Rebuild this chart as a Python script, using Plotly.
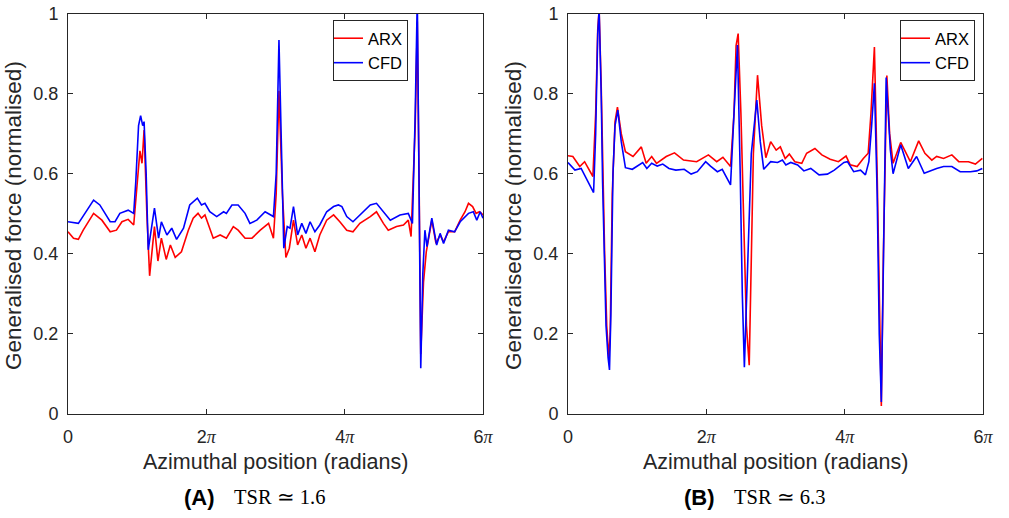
import plotly.graph_objects as go

# ---------------- data (x in units of pi) ----------------
a_arx_x = [0, 0.08, 0.15, 0.22, 0.37, 0.49, 0.61, 0.70, 0.78, 0.87, 0.95, 0.99, 1.04, 1.07, 1.10, 1.14, 1.18,
           1.25, 1.30, 1.35, 1.42, 1.48, 1.55, 1.64, 1.74, 1.81, 1.88, 1.93, 1.98, 2.10, 2.20, 2.29, 2.39, 2.46,
           2.56, 2.66, 2.78, 2.90, 2.97, 3.01, 3.05, 3.10, 3.15, 3.20, 3.26, 3.32, 3.38, 3.44, 3.50, 3.57, 3.64,
           3.74, 3.84, 3.93, 4.03, 4.12, 4.22, 4.37, 4.46, 4.56, 4.63, 4.75, 4.85, 4.92, 4.96, 5.02, 5.05, 5.075,
           5.10, 5.14, 5.18, 5.26, 5.32, 5.38, 5.43, 5.50, 5.59, 5.67, 5.74, 5.79, 5.85, 5.90, 5.95, 6.0]
a_arx_y = [0.455, 0.439, 0.436, 0.459, 0.501, 0.484, 0.455, 0.459, 0.48, 0.486, 0.472, 0.55, 0.657, 0.626, 0.709,
           0.50, 0.345, 0.468, 0.382, 0.439, 0.386, 0.422, 0.391, 0.405, 0.459, 0.489, 0.501, 0.489, 0.497, 0.439,
           0.447, 0.439, 0.468, 0.459, 0.439, 0.439, 0.459, 0.476, 0.439, 0.55, 0.807, 0.55, 0.391, 0.414, 0.484,
           0.422, 0.447, 0.414, 0.439, 0.405, 0.447, 0.484, 0.497, 0.48, 0.459, 0.455, 0.476, 0.493, 0.505, 0.476,
           0.459, 0.468, 0.472, 0.484, 0.443, 0.72, 0.98, 0.6, 0.15, 0.33, 0.405, 0.484, 0.426, 0.447, 0.43, 0.455,
           0.455, 0.484, 0.505, 0.526, 0.518, 0.501, 0.505, 0.497]

a_cfd_x = [0, 0.15, 0.2, 0.37, 0.46, 0.61, 0.68, 0.75, 0.87, 0.95, 0.98, 1.02, 1.05, 1.08, 1.10, 1.13, 1.16, 1.25,
           1.31, 1.35, 1.43, 1.50, 1.57, 1.67, 1.76, 1.87, 1.93, 1.98, 2.05, 2.15, 2.25, 2.29, 2.37, 2.46, 2.56,
           2.63, 2.73, 2.85, 2.97, 3.01, 3.05, 3.09, 3.12, 3.17, 3.21, 3.26, 3.32, 3.38, 3.44, 3.50, 3.57, 3.64,
           3.74, 3.84, 3.91, 3.96, 4.03, 4.12, 4.22, 4.37, 4.46, 4.56, 4.66, 4.80, 4.92, 4.98, 5.02, 5.05, 5.075,
           5.10, 5.13, 5.16, 5.19, 5.26, 5.33, 5.38, 5.43, 5.50, 5.59, 5.67, 5.79, 5.86, 5.91, 5.96, 6.0]
a_cfd_y = [0.480, 0.476, 0.489, 0.534, 0.522, 0.480, 0.480, 0.501, 0.509, 0.501, 0.58, 0.72, 0.745, 0.72, 0.73,
           0.60, 0.41, 0.514, 0.439, 0.48, 0.447, 0.464, 0.436, 0.464, 0.522, 0.539, 0.522, 0.526, 0.505, 0.493,
           0.505, 0.501, 0.522, 0.522, 0.501, 0.476, 0.484, 0.505, 0.493, 0.60, 0.934, 0.60, 0.414, 0.468, 0.464,
           0.518, 0.447, 0.476, 0.451, 0.48, 0.455, 0.472, 0.505, 0.518, 0.522, 0.518, 0.493, 0.48, 0.497, 0.522,
           0.526, 0.505, 0.484, 0.497, 0.501, 0.476, 0.75, 1.04, 0.6, 0.114, 0.35, 0.459, 0.418, 0.489, 0.422,
           0.451, 0.426, 0.459, 0.455, 0.48, 0.501, 0.505, 0.484, 0.505, 0.489]

b_arx_x = [0, 0.07, 0.17, 0.24, 0.36, 0.40, 0.43, 0.45, 0.48, 0.50, 0.53, 0.56, 0.59, 0.61, 0.64, 0.68, 0.715,
           0.77, 0.83, 0.94, 1.06, 1.13, 1.21, 1.28, 1.42, 1.54, 1.67, 1.86, 2.03, 2.15, 2.24, 2.35, 2.40, 2.43,
           2.46, 2.50, 2.54, 2.58, 2.62, 2.65, 2.68, 2.74, 2.80, 2.86, 2.93, 3.01, 3.07, 3.14, 3.20, 3.28, 3.38,
           3.45, 3.57, 3.67, 3.79, 3.91, 4.02, 4.08, 4.18, 4.27, 4.34, 4.38, 4.43, 4.47, 4.50, 4.53, 4.56, 4.61,
           4.65, 4.70, 4.81, 4.95, 5.07, 5.16, 5.26, 5.33, 5.43, 5.55, 5.65, 5.79, 5.89, 5.99]
b_arx_y = [0.645, 0.643, 0.618, 0.630, 0.593, 0.75, 0.96, 1.01, 0.82, 0.62, 0.4, 0.22, 0.139, 0.2, 0.55, 0.73,
           0.766, 0.70, 0.655, 0.643, 0.667, 0.626, 0.643, 0.626, 0.643, 0.652, 0.634, 0.630, 0.647, 0.630, 0.641,
           0.618, 0.75, 0.92, 0.950, 0.75, 0.45, 0.22, 0.122, 0.4, 0.65, 0.846, 0.72, 0.64, 0.68, 0.659, 0.667,
           0.638, 0.649, 0.630, 0.626, 0.651, 0.663, 0.647, 0.636, 0.630, 0.644, 0.622, 0.618, 0.638, 0.651, 0.75,
           0.916, 0.6, 0.25, 0.02, 0.4, 0.845, 0.70, 0.626, 0.678, 0.630, 0.682, 0.651, 0.634, 0.643, 0.638, 0.647,
           0.630, 0.630, 0.624, 0.638]

b_cfd_x = [0, 0.10, 0.19, 0.27, 0.37, 0.40, 0.43, 0.45, 0.48, 0.50, 0.52, 0.55, 0.58, 0.60, 0.62, 0.65, 0.68,
           0.72, 0.77, 0.83, 0.93, 1.08, 1.14, 1.21, 1.29, 1.37, 1.46, 1.56, 1.68, 1.78, 1.87, 1.99, 2.06, 2.16,
           2.23, 2.35, 2.40, 2.45, 2.49, 2.52, 2.55, 2.60, 2.65, 2.73, 2.78, 2.83, 2.93, 3.03, 3.10, 3.15, 3.22,
           3.32, 3.41, 3.51, 3.63, 3.75, 3.85, 3.99, 4.04, 4.13, 4.23, 4.30, 4.35, 4.39, 4.43, 4.47, 4.50, 4.53,
           4.56, 4.60, 4.66, 4.70, 4.81, 4.92, 5.04, 5.15, 5.33, 5.43, 5.55, 5.67, 5.82, 5.91, 5.99]
b_cfd_y = [0.628, 0.609, 0.613, 0.588, 0.553, 0.70, 0.95, 1.01, 0.8, 0.58, 0.4, 0.22, 0.14, 0.11, 0.25, 0.6,
           0.72, 0.759, 0.68, 0.615, 0.611, 0.628, 0.613, 0.626, 0.619, 0.624, 0.613, 0.609, 0.611, 0.599, 0.605,
           0.630, 0.619, 0.605, 0.611, 0.572, 0.75, 0.921, 0.6, 0.3, 0.117, 0.4, 0.65, 0.784, 0.68, 0.611, 0.630,
           0.628, 0.634, 0.622, 0.628, 0.622, 0.607, 0.613, 0.597, 0.599, 0.609, 0.628, 0.630, 0.605, 0.609, 0.597,
           0.63, 0.72, 0.826, 0.55, 0.2, 0.03, 0.4, 0.84, 0.66, 0.60, 0.672, 0.613, 0.643, 0.601, 0.613, 0.618,
           0.618, 0.605, 0.605, 0.607, 0.613]

for xs, ys in [(a_arx_x, a_arx_y), (a_cfd_x, a_cfd_y), (b_arx_x, b_arx_y), (b_cfd_x, b_cfd_y)]:
    assert len(xs) == len(ys), (len(xs), len(ys))

x_tick_vals = [0, 2, 4, 6]
pi_html = '<span style="font-family:Liberation Serif, serif"><i>π</i></span>'
x_tick_text = ["0", "2" + pi_html, "4" + pi_html, "6" + pi_html]
y_tick_vals = [0, 0.2, 0.4, 0.6, 0.8, 1]
y_tick_text = ["0", "0.2", "0.4", "0.6", "0.8", "1"]

series_names = ["ARX", "CFD"]
series_colors = ["#FF0000", "#0000FF"]
x_title = "Azimuthal position (radians)"
y_title = "Generalised force (normalised)"
captions = [("(A)", "TSR ≃ 1.6"), ("(B)", "TSR ≃ 6.3")]

# ---------------- figure ----------------
W, H = 1009, 518
fig = go.Figure()

panels = [
    dict(xa="x", ya="y", legend="legend", data=[(a_arx_x, a_arx_y), (a_cfd_x, a_cfd_y)]),
    dict(xa="x2", ya="y2", legend="legend2", data=[(b_arx_x, b_arx_y), (b_cfd_x, b_cfd_y)]),
]
for p in panels:
    for (xs, ys), name, col in zip(p["data"], series_names, series_colors):
        fig.add_trace(go.Scatter(x=xs, y=ys, mode="lines", name=name, xaxis=p["xa"], yaxis=p["ya"],
                                 legend=p["legend"], line=dict(color=col, width=1.6)))

ax_col = "#262626"
font_sans = "Liberation Sans, Arial, sans-serif"
font_serif = "Liberation Serif, Times New Roman, serif"

common_x = dict(range=[0, 6], tickvals=x_tick_vals, ticktext=x_tick_text, showline=True, mirror="ticks",
                linecolor=ax_col, linewidth=1, ticks="inside", ticklen=5, tickcolor=ax_col, showgrid=False,
                zeroline=False, automargin=False, ticklabelstandoff=6,
                tickfont=dict(family=font_sans, size=18, color=ax_col))
common_y = dict(range=[0, 1], tickvals=y_tick_vals, ticktext=y_tick_text, showline=True, mirror="ticks",
                linecolor=ax_col, linewidth=1, ticks="inside", ticklen=5, tickcolor=ax_col, showgrid=False,
                zeroline=False, automargin=False, ticklabelstandoff=5,
                tickfont=dict(family=font_sans, size=18, color=ax_col))

y_dom = [1 - 414 / H, 1 - 13.5 / H]
x_dom1 = [68 / W, 483 / W]
x_dom2 = [568 / W, 983 / W]

leg_common = dict(xanchor="right", yanchor="top", bgcolor="white", bordercolor="#262626", borderwidth=1,
                  font=dict(family=font_sans, size=16.5, color="#000"), itemwidth=30, tracegroupgap=0,
                  indentation=-6)
fig.update_layout(
    width=W, height=H, margin=dict(l=0, r=0, t=0, b=0, autoexpand=False),
    paper_bgcolor="white", plot_bgcolor="white",
    xaxis=dict(domain=x_dom1, anchor="y", **common_x),
    yaxis=dict(domain=y_dom, anchor="x", **common_y),
    xaxis2=dict(domain=x_dom2, anchor="y2", **common_x),
    yaxis2=dict(domain=y_dom, anchor="x2", **common_y),
    legend=dict(x=408 / W, y=1 - 20 / H, **leg_common),
    legend2=dict(x=975 / W, y=1 - 20 / H, **leg_common),
    showlegend=True,
)

anns = []
for cx, lab_cx, tsr_x, (lab, tsr) in zip([(68 + 483) / 2, (568 + 983) / 2], [199, 699], [232, 732], captions):
    # x-axis title
    anns.append(dict(text=x_title, x=cx / W, y=1 - 462 / H, xref="paper", yref="paper", showarrow=False,
                     xanchor="center", yanchor="middle", font=dict(family=font_sans, size=21.5, color=ax_col)))
    # caption
    anns.append(dict(text="<b>" + lab + "</b>", x=lab_cx / W, y=1 - 497 / H, xref="paper", yref="paper",
                     showarrow=False, xanchor="center", yanchor="middle",
                     font=dict(family=font_sans, size=22, color="#000")))
    anns.append(dict(text=tsr, x=tsr_x / W, y=1 - 497 / H, xref="paper", yref="paper",
                     showarrow=False, xanchor="left", yanchor="middle",
                     font=dict(family=font_serif, size=20.5, color="#000")))
for lx in [13, 513]:
    anns.append(dict(text=y_title, x=lx / W, y=1 - 216 / H, xref="paper", yref="paper", showarrow=False,
                     xanchor="center", yanchor="middle", textangle=-90,
                     font=dict(family=font_sans, size=22.5, color=ax_col)))
fig.update_layout(annotations=anns)

fig.write_html("out.html", config={"displayModeBar": False},
               post_script="document.body.style.margin='0px';")
